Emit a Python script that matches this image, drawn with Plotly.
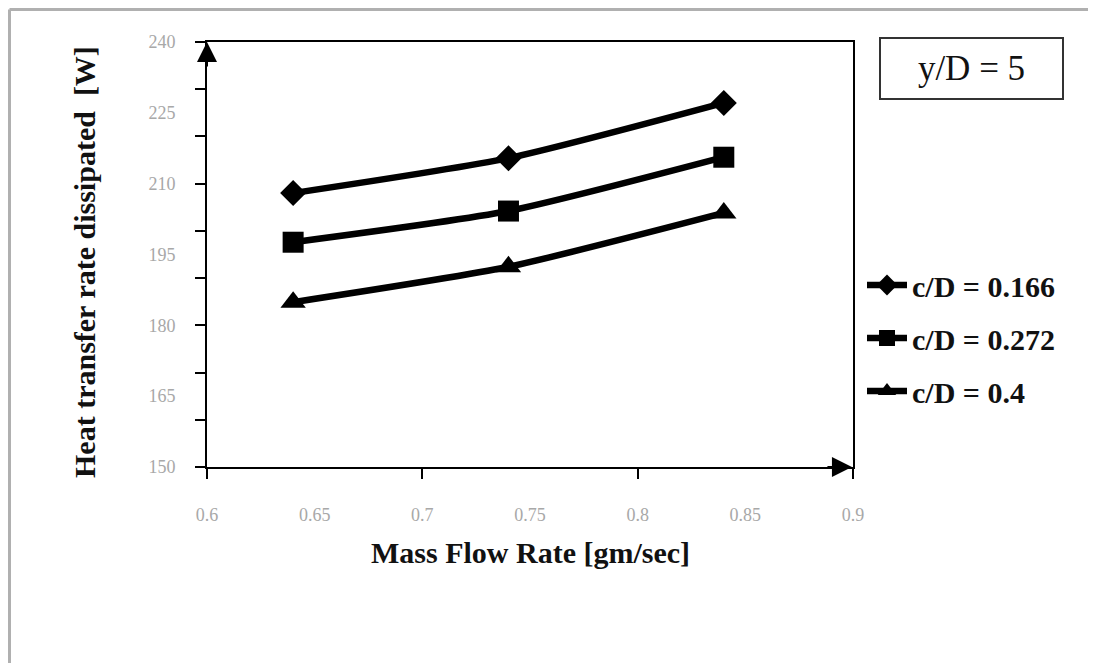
import plotly.graph_objects as go

# ---- data ----
mass_flow = [0.64, 0.74, 0.84]
series_names = ["c/D = 0.166", "c/D = 0.272", "c/D = 0.4"]
heat_cd_0166 = [208.0, 215.4, 227.1]
heat_cd_0272 = [197.6, 204.2, 215.6]
heat_cd_04 = [184.9, 192.4, 203.8]
marker_symbols = ["diamond", "square", "triangle-up"]
marker_sizes = [20, 21, 22]

x_label_vals = [0.6, 0.65, 0.7, 0.75, 0.8, 0.85, 0.9]
x_mark_vals = [0.6, 0.7, 0.8, 0.9]
y_label_vals = [150, 165, 180, 195, 210, 225, 240]
y_mark_vals = [150, 160, 170, 180, 190, 200, 210, 220, 230, 240]

OFF = 8  # default page margin of the html body
W, H = 1096 - OFF, 663 - OFF
L, T = 207 - OFF, 42 - OFF
PW, PH = 646, 425
R, B = W - L - PW, H - T - PH


def px_x(p):
    return (p - OFF - L) / PW


def px_y(p):
    return (T + PH - (p - OFF)) / PH


fig = go.Figure()
for i, (name, vals) in enumerate(zip(series_names, [heat_cd_0166, heat_cd_0272, heat_cd_04])):
    fig.add_trace(go.Scatter(
        x=mass_flow, y=vals, name=name, mode="lines+markers",
        line=dict(color="black", width=6.5, shape="spline", smoothing=0.6),
        marker=dict(symbol=marker_symbols[i], size=marker_sizes[i], color="black"),
        legendgroup=f"g{i}",
    ))

serif = "Liberation Serif"
fig.update_layout(
    width=W, height=H,
    margin=dict(l=L, r=R, t=T, b=B, autoexpand=False),
    paper_bgcolor="white", plot_bgcolor="white",
    showlegend=True,
    legend=dict(x=px_x(862), xanchor="left", y=px_y(338), yanchor="middle",
                font=dict(family=serif, size=30, color="#111", weight="bold"),
                tracegroupgap=11, bgcolor="rgba(0,0,0,0)", itemwidth=40),
    xaxis=dict(range=[0.6, 0.9], tickvals=x_label_vals,
               ticktext=[f"{v:g}" for v in x_label_vals], ticks="",
               showgrid=False, zeroline=False,
               showline=True, linecolor="black", linewidth=2, mirror=True,
               tickfont=dict(family=serif, size=18, color="#a8a8a8"),
               ticklabelstandoff=30,
               minor=dict(tickvals=x_mark_vals, ticks="outside", ticklen=10,
                          tickwidth=2, tickcolor="black", showgrid=False)),
    yaxis=dict(range=[150, 240], tickvals=y_label_vals, ticks="",
               showgrid=False, zeroline=False,
               showline=True, linecolor="black", linewidth=2, mirror=True,
               tickfont=dict(family=serif, size=18, color="#a8a8a8"),
               ticklabelstandoff=26,
               minor=dict(tickvals=y_mark_vals, ticks="outside", ticklen=10,
                          tickwidth=2, tickcolor="black", showgrid=False)),
)

# axis titles
fig.add_annotation(text="<b>Mass Flow Rate [gm/sec]</b>", xref="paper", yref="paper",
                   x=px_x(530), y=px_y(552), xanchor="center", yanchor="middle",
                   showarrow=False, font=dict(family=serif, size=30, color="#111"))
fig.add_annotation(text="<b>Heat transfer rate dissipated  [W]</b>", xref="paper", yref="paper",
                   x=px_x(85), y=px_y(262), xanchor="center", yanchor="middle",
                   showarrow=False, textangle=-90,
                   font=dict(family=serif, size=30, color="#111"))

# y/D box
fig.add_annotation(text="y/D = 5", xref="paper", yref="paper",
                   x=px_x(972), y=px_y(69), xanchor="center", yanchor="middle",
                   showarrow=False,
                   width=179, height=57, bordercolor="#333", borderwidth=2,
                   font=dict(family=serif, size=35, color="#111"))

# axis arrows
fig.add_annotation(x=0.6, y=240, xref="x", yref="y", ax=0, ay=26, text="",
                   showarrow=True, arrowhead=2, arrowsize=2, arrowwidth=2, arrowcolor="black")
fig.add_annotation(x=0.8995, y=150, xref="x", yref="y", ax=-26, ay=0, text="",
                   showarrow=True, arrowhead=2, arrowsize=2, arrowwidth=2, arrowcolor="black")

# outer grey frame (top and left)
fig.add_shape(type="line", xref="paper", yref="paper", x0=px_x(9.5), x1=px_x(1096),
              y0=px_y(9.5), y1=px_y(9.5), line=dict(color="#b0b0b0", width=3))
fig.add_shape(type="line", xref="paper", yref="paper", x0=px_x(9.5), x1=px_x(9.5),
              y0=px_y(9.5), y1=px_y(663), line=dict(color="#b0b0b0", width=3))

fig.write_html("out.html")
